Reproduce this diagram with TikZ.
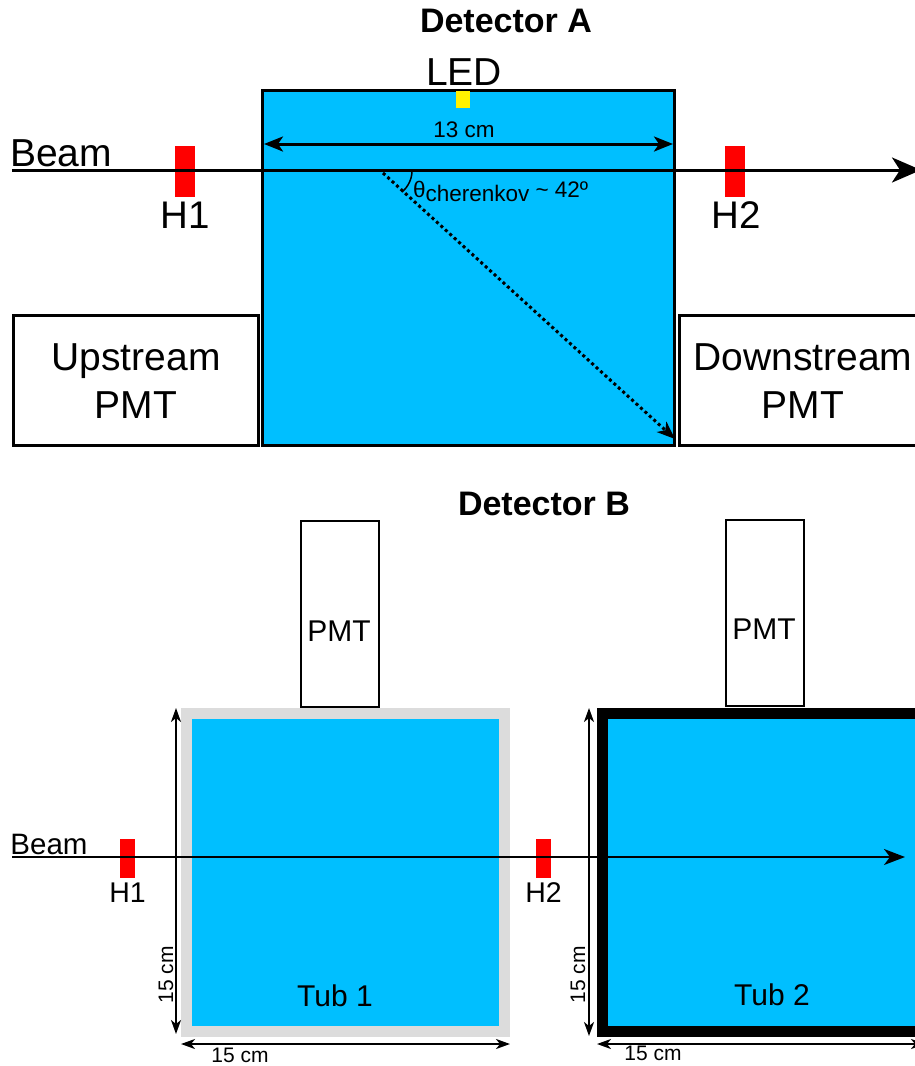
\documentclass[tikz,border=0pt]{standalone}
\usepackage{fontspec}
\setmainfont{Liberation Sans}
\usetikzlibrary{arrows.meta}
\definecolor{water}{HTML}{00BFFF}
\definecolor{wallgray}{HTML}{DCDCDC}
\newcommand{\fs}[1]{\fontsize{#1}{#1}\selectfont}
\tikzset{
  node distance=1cm,
  every node/.style={inner sep=0pt,outer sep=0pt},
  box/.style={draw=black,fill=white,line width=3pt,align=center},
  tub/.style={draw=wallgray,fill=water,line width=11pt,minimum width=318pt,minimum height=318pt},
  tag/.style={fill=red,minimum width=20pt,minimum height=51pt},
  smalltag/.style={fill=red,minimum width=15pt,minimum height=39pt},
  dim/.style={line width=2pt,{Stealth[length=14pt,width=10pt,inset=4pt]}-{Stealth[length=14pt,width=10pt,inset=4pt]}},
}
\begin{document}
\begin{tikzpicture}[x=1pt,y=-1pt]
      \clip (0,0) rectangle (915,1066);
      % detector A
      \node [font=\fs{34}\bfseries] (titlea) at (506,21) {Detector A};
      \node [box,fill=water,minimum width=412pt,minimum height=355pt] (tanka) at (468.5,267.5) {};
      \node [box,minimum width=245pt,minimum height=130pt] (upa) at (135.5,380) {};
      \node [box,minimum width=248pt,minimum height=130pt] (downa) at (803,380) {};
      \node [font=\fs{39}] (upname) at (136,361) {Upstream};
      \node [below of=upname,yshift=-15.5pt,font=\fs{39}] (uppmt) {PMT};
      \node [font=\fs{39}] (downname) at (803,357) {Downstream};
      \node [below of=downname,yshift=-19.5pt,font=\fs{39}] (downpmt) {PMT};
      \node [font=\fs{39}] (leda) at (464,72) {LED};
      \node [fill=yellow,minimum width=14pt,minimum height=17pt] (ledbox) at (463,99.5) {};
      \node [tag] (hia) at (185,171.5) {};
      \node [tag] (hiia) at (735,171.5) {};
      \node [below of=hia,yshift=-15pt,font=\fs{38.5}] (hialabel) {H1};
      \node [below of=hiia,yshift=-15pt,xshift=1pt,font=\fs{38.5}] (hiialabel) {H2};
      \node [font=\fs{39}] (beama) at (61,153) {Beam};
      \node [font=\fs{22.5}] (widtha) at (464,130) {13 cm};
      \node [font=\fs{22.5},anchor=base west] (angle) at (413,197) {θ\raisebox{-4pt}{cherenkov} \textasciitilde{} 42º};
      \coordinate (beamastart) at (12,170);
      \coordinate (beamaend) at (921,170);
      \coordinate (widthl) at (264,144);
      \coordinate (widthr) at (673,144);
      \coordinate (rayfrom) at (383,173);
      \coordinate (rayto) at (675,439);
      \coordinate (arcfrom) at (412,171);
      \coordinate (arcto) at (402,192);
      % links A
      \draw [line width=3pt,-{Stealth[length=29pt,width=25pt,inset=8pt]}] (beamastart) -- (beamaend);
      \draw [line width=3pt,{Stealth[length=19pt,width=15pt,inset=5pt]}-{Stealth[length=19pt,width=15pt,inset=5pt]}] (widthl) -- (widthr);
      \draw [line width=3pt,dash pattern=on 3pt off 3pt,-{Stealth[length=18pt,width=14pt,inset=5pt]}] (rayfrom) -- (rayto);
      \draw [line width=1.5pt] (arcfrom) .. controls (412,179) and (408,187) .. (arcto);
      % detector B
      \node [font=\fs{34}\bfseries] (titleb) at (544,504) {Detector B};
      \node [box,line width=2.5pt,minimum width=78pt,minimum height=186pt] (pmti) at (340,614) {};
      \node [box,line width=2.5pt,minimum width=78pt,minimum height=186pt] (pmtii) at (765,613) {};
      \node [font=\fs{30}] (pmtilabel) at (339,631) {PMT};
      \node [font=\fs{30}] (pmtiilabel) at (764,629) {PMT};
      \node [tub] (tubi) at (345.5,872) {};
      \node [tub,draw=black] (tubii) at (761.5,872) {};
      \node [font=\fs{30}] (tubilabel) at (335,996) {Tub 1};
      \node [font=\fs{30}] (tubiilabel) at (772,995) {Tub 2};
      \node [smalltag] (hib) at (127.5,858.5) {};
      \node [smalltag] (hiib) at (543.5,858.5) {};
      \node [below of=hib,yshift=-5.5pt,font=\fs{28.5}] (hiblabel) {H1};
      \node [below of=hiib,yshift=-5.5pt,font=\fs{28.5}] (hiiblabel) {H2};
      \node [font=\fs{29.5}] (beamb) at (49,844) {Beam};
      \node [font=\fs{21},rotate=90] (sidei) at (166,975) {15 cm};
      \node [font=\fs{21},rotate=90] (sideii) at (578,975) {15 cm};
      \node [font=\fs{21}] (basei) at (240,1055) {15 cm};
      \node [font=\fs{21}] (baseii) at (653,1053) {15 cm};
      \coordinate (beambstart) at (12,857);
      \coordinate (beambend) at (905,857);
      \coordinate (sideitop) at (176,708);
      \coordinate (sideibot) at (176,1034);
      \coordinate (sideiitop) at (589,708);
      \coordinate (sideiibot) at (589,1036);
      \coordinate (baseil) at (181,1044);
      \coordinate (baseir) at (510,1044);
      \coordinate (baseiil) at (597,1044);
      \coordinate (baseiir) at (925,1044);
      % links B
      \draw [line width=2pt,-{Stealth[length=21pt,width=16pt,inset=6pt]}] (beambstart) -- (beambend);
      \draw [dim] (sideitop) -- (sideibot);
      \draw [dim] (sideiitop) -- (sideiibot);
      \draw [dim] (baseil) -- (baseir);
      \draw [dim] (baseiil) -- (baseiir);
    \end{tikzpicture}
\end{document}
